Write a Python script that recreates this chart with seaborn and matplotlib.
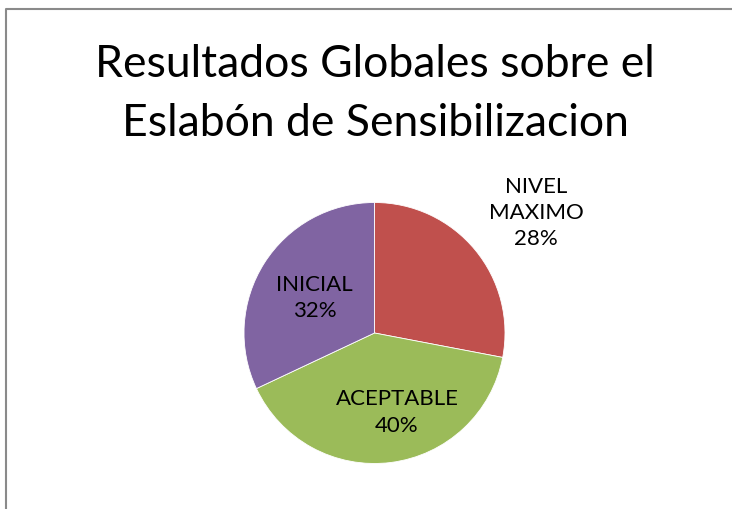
import matplotlib
matplotlib.use("Agg")
import matplotlib.pyplot as plt
from matplotlib.lines import Line2D
import seaborn as sns

categories = ["NIVEL\nMAXIMO", "ACEPTABLE", "INICIAL"]
values = [28, 40, 32]
colors = ["#C0504D", "#9BBB59", "#8064A2"]
title_lines = ["Resultados Globales sobre el", "Eslabón de Sensibilizacion"]

sns.set_theme(style="white")
plt.rcParams['font.family'] = ['Lato', 'DejaVu Sans']

W, H = 732, 510
fig = plt.figure(figsize=(W / 100, H / 100), dpi=100)
fig.patch.set_facecolor("white")

cx, cy, r = 374.5, 334, 130.5
ax = fig.add_axes([(cx - r) / W, (H - cy - r) / H, 2 * r / W, 2 * r / H])
wedges, _ = ax.pie(values, colors=colors, startangle=90, counterclock=False,
                   radius=1, wedgeprops=dict(linewidth=0.6, edgecolor="white"))
ax.set_xlim(-1, 1)
ax.set_ylim(-1, 1)
ax.set_aspect("equal")
ax.axis("off")

# label layout (data coords relative to pie)
label_pos = [(1.237, 0.927), (0.172, -0.601), (-0.46, 0.276)]
total = sum(values)
for cat, v, (x, y) in zip(categories, values, label_pos):
    ax.text(x, y, f"{cat}\n{round(100 * v / total)}%", ha="center", va="center",
            fontsize=16, color="#000000", linespacing=1.4, clip_on=False)

for line, base in zip(title_lines, [77, 136]):
    fig.text(375 / W, 1 - base / H, line, ha="center", va="baseline",
             fontsize=32, color="#000000")

# chart frame (top and left visible)
fig.add_artist(Line2D([6 / W, 6 / W, 1.0], [0.0, 1 - 10 / H, 1 - 10 / H],
                      transform=fig.transFigure, color="#8a8a8a", linewidth=1.5))

fig.savefig("out.png", dpi=100, facecolor="white")
